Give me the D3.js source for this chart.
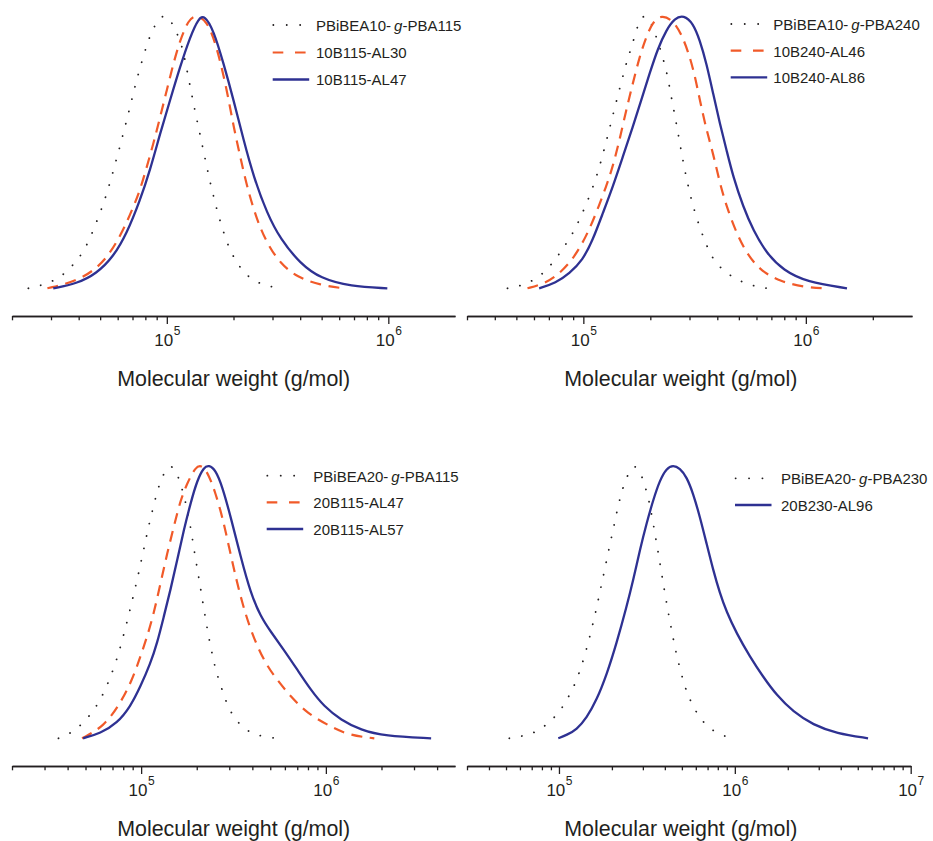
<!DOCTYPE html>
<html><head><meta charset="utf-8">
<script src="https://cdn.jsdelivr.net/npm/d3@7"></script>
<style>
body{margin:0;background:#fff}
svg{display:block}
text{font-family:"Liberation Sans",Arial,Helvetica,sans-serif;fill:#231f20}
</style>
</head><body>
<svg id="c" width="933" height="841"></svg>
<script>
// ---------------- DATA ----------------
const xTitle = "Molecular weight (g/mol)";

const p1Labels = ["PBiBEA10-g-PBA115", "10B115-AL30", "10B115-AL47"];
const p2Labels = ["PBiBEA10-g-PBA240", "10B240-AL46", "10B240-AL86"];
const p3Labels = ["PBiBEA20-g-PBA115", "20B115-AL47", "20B115-AL57"];
const p4Labels = ["PBiBEA20-g-PBA230", "20B230-AL96"];

// Panel 1 (molecular weight g/mol, normalized intensity)
const p1DotM = [23700, 26900, 30700, 35000, 39500, 43200, 48200, 53100, 57300, 61500, 65900, 70200, 75200, 81300, 85500, 91400, 97300, 103500, 110200, 116900, 123200, 129700, 136800, 144900, 152800, 162600, 174200, 190100, 203700, 222300, 253500, 288400, 328900];
const p1DotI = [0, 0.01, 0.026, 0.056, 0.104, 0.149, 0.242, 0.334, 0.429, 0.521, 0.614, 0.707, 0.8, 0.893, 0.939, 0.985, 1.0, 0.985, 0.939, 0.893, 0.8, 0.707, 0.614, 0.521, 0.429, 0.334, 0.242, 0.149, 0.104, 0.056, 0.022, 0.007, 0];
const p1DashM = [28900, 39200, 48200, 55400, 63600, 70600, 75700, 81200, 87000, 93300, 100000, 107100, 114800, 125200, 134300, 151700, 168300, 186800, 200200, 214600, 230100, 255300, 283500, 325600, 387300, 494000, 629500];
const p1DashI = [0, 0.026, 0.072, 0.127, 0.212, 0.298, 0.359, 0.444, 0.530, 0.627, 0.725, 0.823, 0.908, 0.982, 1.0, 0.982, 0.884, 0.725, 0.591, 0.481, 0.371, 0.249, 0.164, 0.090, 0.041, 0.011, 0];
const p1SolidM = [30700, 39200, 48200, 57300, 65900, 75700, 84000, 93300, 103500, 114800, 127500, 139000, 147900, 162500, 180300, 200200, 222100, 246500, 283500, 325600, 400900, 494000, 674500, 989700];
const p1SolidI = [0, 0.017, 0.054, 0.115, 0.200, 0.322, 0.432, 0.567, 0.689, 0.811, 0.921, 0.988, 1.0, 0.945, 0.823, 0.689, 0.542, 0.408, 0.274, 0.180, 0.090, 0.036, 0.007, 0];

// Panel 2
const p2DotM = [45600, 51800, 59000, 67500, 75300, 82400, 89500, 95900, 107200, 117200, 125600, 134300, 143500, 153500, 159600, 166700, 179000, 190400, 201800, 220300, 237500, 248700, 261800, 273800, 287600, 304800, 329100, 363700, 389800, 440300, 514400, 590600, 671200];
const p2DotI = [0, 0.008, 0.026, 0.060, 0.109, 0.154, 0.200, 0.249, 0.340, 0.432, 0.525, 0.618, 0.711, 0.803, 0.850, 0.896, 0.988, 1.0, 0.975, 0.884, 0.792, 0.697, 0.605, 0.513, 0.420, 0.327, 0.234, 0.142, 0.096, 0.054, 0.023, 0.007, 0];
const p2DashM = [56100, 65500, 75300, 89500, 102800, 114100, 126600, 135600, 145400, 155800, 166900, 178900, 191800, 205400, 224200, 252800, 280500, 311200, 333700, 357600, 383000, 410600, 440300, 488400, 541900, 622300, 765800, 1010000, 1243000];
const p2DashI = [0, 0.015, 0.042, 0.103, 0.188, 0.274, 0.372, 0.445, 0.542, 0.652, 0.750, 0.847, 0.921, 0.975, 1.0, 0.982, 0.921, 0.811, 0.689, 0.579, 0.494, 0.385, 0.299, 0.201, 0.128, 0.066, 0.024, 0.003, 0];
const p2SolidM = [63300, 75300, 86500, 99300, 110200, 122200, 135600, 150400, 166900, 182100, 198500, 216300, 236000, 257300, 282500, 311200, 333700, 357600, 383000, 410600, 440300, 471400, 523000, 580100, 667000, 792500, 1010000, 1531000];
const p2SolidI = [0, 0.02, 0.054, 0.103, 0.176, 0.274, 0.371, 0.481, 0.591, 0.689, 0.786, 0.878, 0.945, 0.988, 1.0, 0.970, 0.908, 0.823, 0.713, 0.603, 0.505, 0.408, 0.298, 0.212, 0.127, 0.066, 0.023, 0];

// Panel 3
const p3DotM = [35700, 41700, 48500, 55300, 60700, 65400, 69600, 73500, 77200, 84000, 90500, 97500, 104200, 111400, 120600, 126200, 135500, 144200, 153500, 163400, 177600, 187500, 197000, 208000, 218600, 230900, 245900, 256200, 269300, 284200, 302400, 334300, 391700, 462600, 542200];
const p3DotI = [0, 0.018, 0.055, 0.101, 0.146, 0.194, 0.240, 0.286, 0.333, 0.427, 0.518, 0.611, 0.704, 0.796, 0.888, 0.935, 0.982, 1.0, 0.982, 0.935, 0.842, 0.750, 0.657, 0.565, 0.472, 0.379, 0.286, 0.240, 0.194, 0.146, 0.101, 0.055, 0.018, 0.006, 0];
const p3DashM = [47900, 62700, 77200, 89400, 99100, 107800, 117100, 127300, 138400, 150300, 163400, 177600, 197000, 214300, 232700, 253000, 275100, 298800, 324800, 353200, 383500, 426000, 482800, 547000, 645700, 795600, 1021000, 1311000, 1829000];
const p3DashI = [0, 0.042, 0.128, 0.213, 0.299, 0.372, 0.457, 0.567, 0.677, 0.774, 0.872, 0.933, 0.994, 1.0, 0.963, 0.896, 0.811, 0.701, 0.591, 0.494, 0.415, 0.335, 0.262, 0.213, 0.152, 0.091, 0.049, 0.012, 0];
const p3SolidM = [48500, 60200, 74100, 87500, 99100, 112300, 122100, 132600, 144200, 156800, 170200, 185100, 201300, 218600, 232700, 253000, 275100, 305200, 345800, 391700, 443900, 503000, 593800, 702100, 828800, 979000, 1206000, 1548000, 2072000, 3713000];
const p3SolidI = [0, 0.018, 0.055, 0.116, 0.189, 0.274, 0.348, 0.445, 0.543, 0.652, 0.762, 0.860, 0.945, 0.992, 1.0, 0.982, 0.921, 0.811, 0.664, 0.531, 0.445, 0.390, 0.323, 0.250, 0.177, 0.116, 0.067, 0.030, 0.008, 0];

// Panel 4
const p4DotM = [52200, 61900, 73100, 86300, 100400, 111500, 121200, 129400, 136900, 150000, 162300, 173900, 186600, 200100, 214500, 223000, 234100, 249900, 266800, 286000, 304100, 319200, 331900, 351200, 371500, 391400, 414600, 440400, 472500, 515200, 547800, 592500, 660500, 776800, 916100];
const p4DotI = [0, 0.008, 0.020, 0.052, 0.095, 0.143, 0.187, 0.234, 0.280, 0.373, 0.466, 0.558, 0.651, 0.744, 0.835, 0.882, 0.929, 0.974, 1.0, 0.984, 0.937, 0.890, 0.842, 0.750, 0.659, 0.567, 0.474, 0.382, 0.289, 0.196, 0.150, 0.104, 0.057, 0.020, 0.004];
const p4SolidM = [99100, 110600, 126100, 143700, 163700, 186600, 212700, 242500, 264400, 288500, 315000, 343400, 374900, 409100, 446100, 487000, 531600, 579700, 632500, 690500, 752900, 821600, 897000, 1023000, 1217000, 1448000, 1726000, 2145000, 2786000, 3783000, 5721000];
const p4SolidI = [0, 0.012, 0.032, 0.075, 0.140, 0.232, 0.348, 0.482, 0.579, 0.689, 0.787, 0.872, 0.945, 0.988, 1.0, 0.988, 0.957, 0.896, 0.811, 0.713, 0.616, 0.531, 0.463, 0.384, 0.299, 0.225, 0.158, 0.097, 0.049, 0.018, 0];

// Axis domains (g/mol)
const p1Domain = [2e4, 2e6];
const p2Domain = [3e4, 3e6];
const p3Domain = [2e4, 5e6];
const p4Domain = [3e4, 1e7];

// ---------------- LAYOUT / STYLE ----------------
const INK = "#231f20", ORANGE = "#f15a29", BLUE = "#2e3192";
const styles = {
  dot:   {stroke: INK, width: 1.8, dash: "0.1,12.6", cap: "round"},
  dash:  {stroke: ORANGE, width: 2.2, dash: "11,7.5", cap: "butt"},
  solid: {stroke: BLUE, width: 2.3, dash: null, cap: "butt"}
};
const zip = (M, I) => M.map((m, i) => ({M: m, I: I[i]}));

const panels = [
  {domain: p1Domain, range: [12, 455], yRange: [288.3, 15], axisY: 316, titleX: 233.7,
   legendX: 272.7, legendRows: [25, 52.5, 79.5], legendTextX: 316,
   series: [{data: zip(p1DotM, p1DotI), style: "dot", label: p1Labels[0]},
            {data: zip(p1DashM, p1DashI), style: "dash", label: p1Labels[1]},
            {data: zip(p1SolidM, p1SolidI), style: "solid", label: p1Labels[2]}]},
  {domain: p2Domain, range: [467, 912], yRange: [288.3, 15], axisY: 316, titleX: 680.8,
   legendX: 730.7, legendRows: [24, 50.7, 77.3], legendTextX: 773.3,
   series: [{data: zip(p2DotM, p2DotI), style: "dot", label: p2Labels[0]},
            {data: zip(p2DashM, p2DashI), style: "dash", label: p2Labels[1]},
            {data: zip(p2SolidM, p2SolidI), style: "solid", label: p2Labels[2]}]},
  {domain: p3Domain, range: [12, 455], yRange: [738.3, 465], axisY: 766, titleX: 233.7,
   legendX: 266.7, legendRows: [475.7, 502.3, 529], legendTextX: 313.3,
   series: [{data: zip(p3DotM, p3DotI), style: "dot", label: p3Labels[0]},
            {data: zip(p3DashM, p3DashI), style: "dash", label: p3Labels[1]},
            {data: zip(p3SolidM, p3SolidI), style: "solid", label: p3Labels[2]}]},
  {domain: p4Domain, range: [467, 910.7], yRange: [738.3, 465], axisY: 766, titleX: 680.8,
   legendX: 735, legendRows: [478.3, 505], legendTextX: 781,
   series: [{data: zip(p4DotM, p4DotI), style: "dot", label: p4Labels[0]},
            {data: zip(p4SolidM, p4SolidI), style: "solid", label: p4Labels[1]}]}
];

const svg = d3.select("#c");

function writeLabel(textSel, label) {
  const m = label.match(/^(.*?-)g(-.*)$/);
  if (m) {
    textSel.append("tspan").text(m[1]);
    textSel.append("tspan").attr("dx", 3).attr("font-style", "italic").text("g");
    textSel.append("tspan").text(m[2]);
  } else {
    textSel.text(label);
  }
}

panels.forEach(p => {
  const x = d3.scaleLog().domain(p.domain).range(p.range);
  const y = d3.scaleLinear().domain([0, 1]).range(p.yRange);
  const g = svg.append("g");

  // ticks
  const lo = Math.floor(Math.log10(p.domain[0])), hi = Math.ceil(Math.log10(p.domain[1]));
  const major = [], minor = [];
  for (let k = lo; k <= hi; k++) {
    for (let m = 1; m <= 9; m++) {
      const v = m * Math.pow(10, k);
      if (v < p.domain[0] * 0.999 || v > p.domain[1] * 1.001) continue;
      if (m === 1) major.push(v);
      else if (v < p.domain[1] * 0.999) minor.push(v);
    }
  }
  const minorAxis = d3.axisBottom(x).tickValues(minor).tickSize(4.3).tickSizeOuter(0).tickFormat("");
  const majorAxis = d3.axisBottom(x).tickValues(major).tickSize(8).tickSizeOuter(0)
    .tickFormat(d => String(Math.round(Math.log10(d))));

  const ga = g.append("g").attr("transform", `translate(0,${p.axisY})`);
  ga.append("g").call(minorAxis);
  const gm = ga.append("g").call(majorAxis);
  ga.selectAll("path.domain").attr("stroke", INK).attr("stroke-width", 1.3);
  ga.selectAll(".tick line").attr("stroke", INK).attr("stroke-width", 1.3);
  gm.selectAll(".tick text").each(function(d) {
    const t = d3.select(this);
    const e = Math.round(Math.log10(d));
    t.text(null).attr("y", 29.7).attr("dy", null)
      .attr("font-size", 17).attr("fill", INK).attr("text-anchor", "middle")
      .attr("font-family", "'Liberation Sans', Arial, sans-serif");
    t.append("tspan").text("10");
    t.append("tspan").attr("dy", -10.5).attr("dx", 0.5).attr("font-size", 12).text(e);
  });
  ga.attr("font-family", null).attr("font-size", null);

  // axis title
  g.append("text").attr("x", p.titleX).attr("y", p.axisY + 70)
    .attr("text-anchor", "middle").attr("font-size", 21.4).text(xTitle);

  // curves
  const line = d3.line().x(d => x(d.M)).y(d => y(d.I)).curve(d3.curveBasis);
  p.series.forEach(s => {
    const st = styles[s.style];
    g.append("path").datum(s.data).attr("d", line)
      .attr("fill", "none").attr("stroke", st.stroke).attr("stroke-width", st.width)
      .attr("stroke-dasharray", st.dash).attr("stroke-linecap", st.cap)
      .attr("stroke-linejoin", "round");
  });

  // legend
  p.series.forEach((s, i) => {
    const st = styles[s.style];
    const yy = p.legendRows[i];
    let x0 = p.legendX, x1 = p.legendX + 36.5, dash = null;
    if (s.style === "dot") { x0 = p.legendX + 0.6; x1 = p.legendX + 28; dash = "0.1,13.3"; }
    if (s.style === "dash") { x1 = p.legendX + 33; dash = "10.6,11.7"; }
    g.append("line").attr("x1", x0).attr("x2", x1).attr("y1", yy).attr("y2", yy)
      .attr("stroke", st.stroke).attr("stroke-width", st.width)
      .attr("stroke-dasharray", dash).attr("stroke-linecap", st.cap);
    const t = g.append("text").attr("x", p.legendTextX).attr("y", yy + 5.8).attr("font-size", 15);
    writeLabel(t, s.label);
  });
});
</script>
</body></html>
